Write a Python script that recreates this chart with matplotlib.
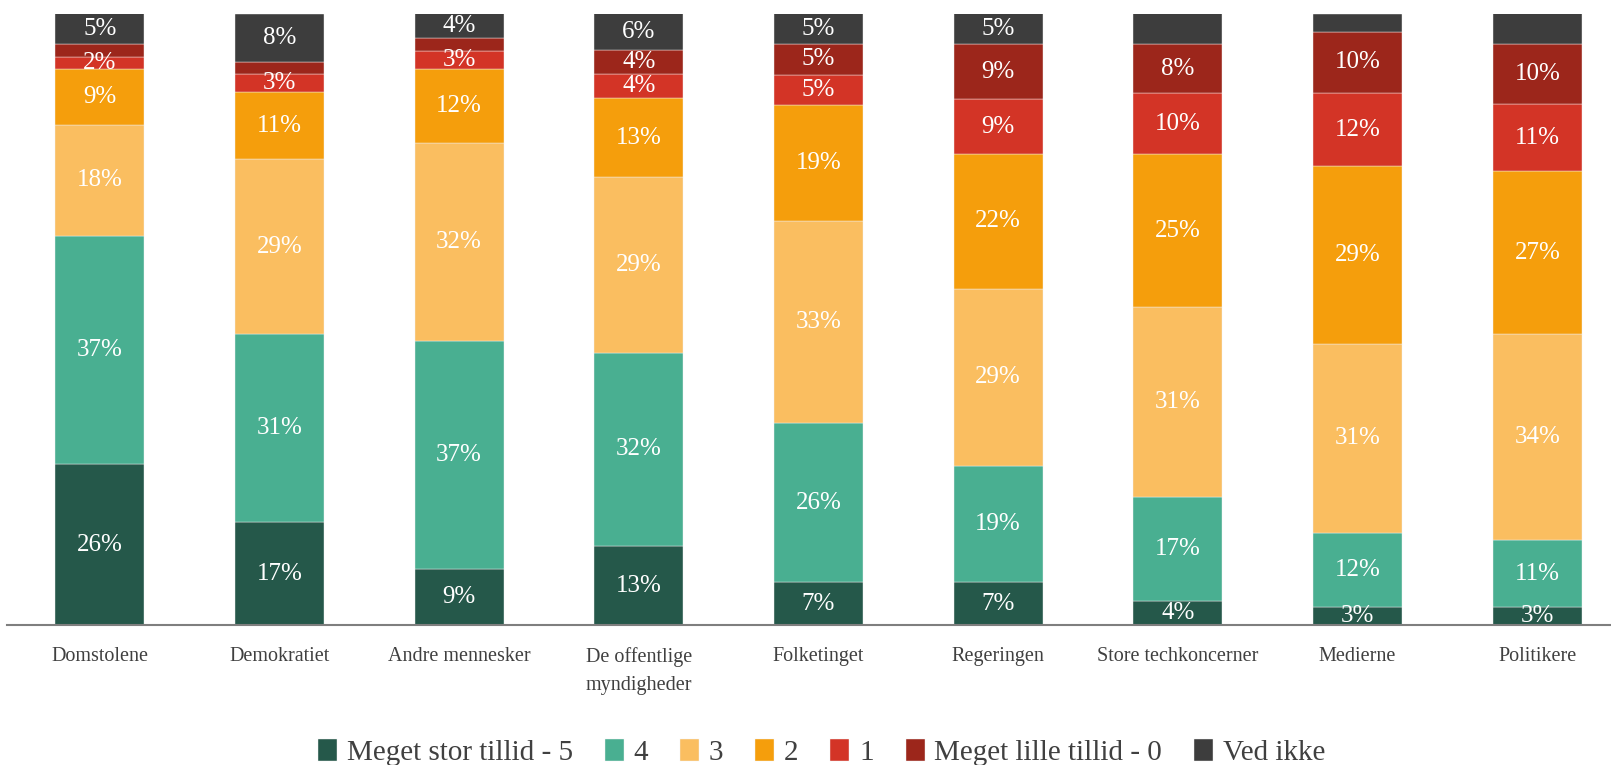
import numpy as np
import matplotlib
matplotlib.use("Agg")
import matplotlib.pyplot as plt

# Tillid til institutioner - 100% stablede søjler
categories = ["Domstolene", "Demokratiet", "Andre mennesker", "De offentlige\nmyndigheder",
              "Folketinget", "Regeringen", "Store techkoncerner", "Medierne", "Politikere"]

series_names = ["Meget stor tillid - 5", "4", "3", "2", "1", "Meget lille tillid - 0", "Ved ikke"]
colors = ["#25584A", "#49AF91", "#FABE60", "#F59E0C", "#D33426", "#9C261B", "#3D3D3D"]

v5 = [26, 17, 9, 13, 7, 7, 4, 3, 3]
v4 = [37, 31, 37, 32, 26, 19, 17, 12, 11]
v3 = [18, 29, 32, 29, 33, 29, 31, 31, 34]
v2 = [9, 11, 12, 13, 19, 22, 25, 29, 27]
v1 = [2, 3, 3, 4, 5, 9, 10, 12, 11]
v0 = [2, 2, 2, 4, 5, 9, 8, 10, 10]
ved_ikke = [5, 8, 4, 6, 5, 5, 5, 3, 5]

# segments without a data label in the original
no_label = {(5, 0), (5, 1), (5, 2), (6, 6), (6, 7), (6, 8)}

data = np.array([v5, v4, v3, v2, v1, v0, ved_ikke], dtype=float)
shares = data / data.sum(axis=0) * 100   # 100% stacked like Excel

plt.rcParams['font.family'] = ['Liberation Serif', 'DejaVu Serif']

fig = plt.figure(figsize=(16.11, 7.65), dpi=100)
ax = fig.add_axes([7 / 1611, 1 - 625 / 765, 1 - 7 / 1611, (625 - 13.5) / 765])

x = np.arange(len(categories))
bottom = np.zeros(len(categories))
for i, name in enumerate(series_names):
    ax.bar(x, shares[i], 0.495, bottom=bottom, color=colors[i], label=name,
           edgecolor="#f2f2f2", linewidth=0.3)
    for j in range(len(categories)):
        if (i, j) in no_label:
            continue
        ax.text(x[j], bottom[j] + shares[i][j] / 2, f"{int(data[i][j])}%",
                ha="center", va="center", color="white", fontsize=18)
    bottom += shares[i]

ax.set_xlim(-0.516, 8.41)
ax.set_ylim(0, 100)
ax.set_yticks([])
ax.set_xticks(x)
ax.set_xticklabels(categories, fontsize=14.5, color="#404040", linespacing=1.6)
ax.tick_params(axis="x", length=0, pad=16)
for s in ["top", "right", "left"]:
    ax.spines[s].set_visible(False)
ax.spines["bottom"].set_color("#7f7f7f")
ax.spines["bottom"].set_linewidth(1.5)

fig.legend(loc="lower center", bbox_to_anchor=(0.51, -0.036), ncol=7, frameon=False,
           fontsize=21, handlelength=0.65, handleheight=0.8, handletextpad=0.33,
           columnspacing=1.1, labelcolor="#404040")

fig.savefig("out.png", dpi=100)
